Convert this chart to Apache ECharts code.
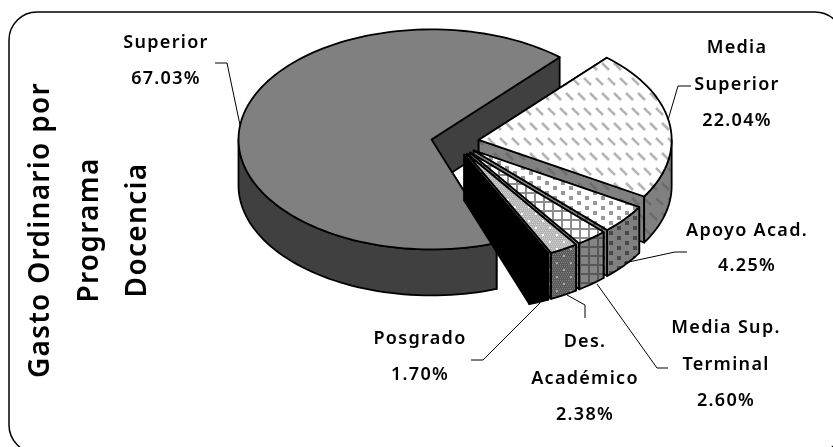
<!DOCTYPE html>
<html><head><meta charset="utf-8">
<style>html,body{margin:0;padding:0;background:#fff}#c{width:833px;height:447px}</style>
<script src="https://cdn.jsdelivr.net/npm/echarts@6/dist/echarts.min.js"></script>
</head><body><div id="c"></div>
<script>
const categories = ['Superior','Media Superior','Apoyo Acad.','Media Sup. Terminal','Des. Académico','Posgrado'];
const values = [67.03,22.04,4.25,2.60,2.38,1.70];
const labelLines = [['Superior'],['Media','Superior'],['Apoyo Acad.'],['Media Sup.','Terminal'],['Des.','Académico'],['Posgrado']];
const titleLines = ['Gasto Ordinario por','Programa','Docencia'];

// layout
const CX=455, CY=142, RX=193, RY=110, DEPTH=46, EXPLODE=0.124, START=160.3;
const labelPos=[[166,43,36],[737,48,36.5],[747,231,35],[726,328,36.5],[585,342,36.5],[420,339,36]];
const leaders=[
 [[215,63],[227,63],[240,125]],
 [[691,86],[678,86],[668,120]],
 [[687,252],[675,252],[624,263]],
 [[668,368],[657,368],[597,284]],
 [[585,318],[585,305],[567,295]],
 [[471,360],[483,360],[540,303]]
];

// letter spacing of the reference's text
const _ft=CanvasRenderingContext2D.prototype.fillText;
CanvasRenderingContext2D.prototype.fillText=function(){ this.letterSpacing='1.3px'; return _ft.apply(this,arguments); };

function tile(w,h,bg,draw){
  const c=document.createElement('canvas'); c.width=w;c.height=h;
  const g=c.getContext('2d'); g.fillStyle=bg; g.fillRect(0,0,w,h); draw(g); return {image:c,repeat:'repeat'};
}
function hatch(bg,fg){return tile(12,30,bg,g=>{
  g.strokeStyle=fg;g.lineWidth=2.6;
  for(const [x,y] of [[2,3],[8,18],[-4,18]]){g.beginPath();g.moveTo(x,y);g.lineTo(x+7,y+7);g.stroke();}
});}
function dots(bg,fg){return tile(16,10,bg,g=>{
  g.fillStyle=fg; g.fillRect(1,1,4,4); g.fillRect(9,6,4,4);
});}
function grid(bg,fg){return tile(9,9,bg,g=>{
  g.fillStyle=fg; g.fillRect(0,3,9,2); g.fillRect(3,0,2,9);
});}
function dither(a,b,c){return tile(14,14,a,g=>{
  g.fillStyle=b; for(let y=0;y<14;y+=2)for(let x=(y%4?1:0);x<14;x+=2)g.fillRect(x,y,1,1);
  g.fillStyle=c; g.fillRect(3,3,2,2); g.fillRect(10,10,2,2);
});}
const topFills=['#808080',hatch('#ffffff','#b4b4b4'),dots('#ffffff','#989898'),grid('#ffffff','#8c8c8c'),dither('#b4b4b4','#d4d4d4','#ffffff'),'#000000'];
const sideFills=['#404040',hatch('#808080','#6c6c6c'),dots('#808080','#484848'),grid('#848484','#585858'),dither('#5a5a5a','#808080','#a8a8a8'),'#000000'];

const total=values.reduce((a,b)=>a+b,0);
const rad=d=>d*Math.PI/180;
const LINE={stroke:'#000',lineWidth:1.8,lineJoin:'round'};

function renderItem(params,api){
  const i=params.dataIndex;
  let before=0; for(let k=0;k<i;k++) before+=values[k];
  const a0=START+before/total*360, a1=a0+api.value(1)/total*360, mid=(a0+a1)/2;
  const cx=CX+EXPLODE*RX*Math.sin(rad(mid)), cy=CY-EXPLODE*RY*Math.cos(rad(mid));
  const P=(a,dz=0)=>[cx+RX*Math.sin(rad(a)), cy-RY*Math.cos(rad(a))+dz];
  const arc=(s,e,dz=0)=>{const out=[],n=Math.max(2,Math.ceil((e-s)/2));for(let j=0;j<=n;j++)out.push(P(s+(e-s)*j/n,dz));return out;};
  const poly=(points,fill)=>({type:'polygon',shape:{points},style:Object.assign({fill},LINE)});
  const side=sideFills[i], top=topFills[i], kids=[];
  kids.push(poly([[cx,cy],P(a0),P(a0,DEPTH),[cx,cy+DEPTH]],side));
  kids.push(poly([[cx,cy],P(a1),P(a1,DEPTH),[cx,cy+DEPTH]],side));
  // the front half of the rim
  for(const off of [0,360]){
    const s=Math.max(a0,90+off), e=Math.min(a1,270+off);
    if(e>s) kids.push(poly(arc(s,e).concat(arc(s,e,DEPTH).reverse()),side));
  }
  kids.push(poly([[cx,cy]].concat(arc(a0,a1)),top));
  kids.push({type:'polyline',shape:{points:leaders[i]},style:{stroke:'#000',lineWidth:1,fill:null}});
  const [lx,ly,lh]=labelPos[i];
  const lines=labelLines[i].concat(api.value(1).toFixed(2)+'%');
  lines.forEach((t,j)=>kids.push({type:'text',x:lx,y:ly+j*lh,style:{text:t,fill:'#000',align:'center',verticalAlign:'middle',
    font:'600 18px "Noto Sans"'}}));
  return {type:'group',children:kids};
}

const chart=echarts.init(document.getElementById('c'),null,{renderer:'canvas'});
chart.setOption({
  animation:false,
  backgroundColor:'#fff',
  graphic:[
    {type:'rect',z:-1,shape:{x:9,y:12,width:834,height:441,r:28},style:{fill:'#fff',stroke:'#000',lineWidth:1.5}},
    ...titleLines.map((t,i)=>({type:'text',z:5,x:[41,90,138][i],y:230,rotation:Math.PI/2,
      style:{text:t,fill:'#000',align:'center',verticalAlign:'middle',font:'600 28px "Noto Sans"'}}))
  ],
  series:[{type:'custom',coordinateSystem:'none',renderItem,silent:true,clip:false,
    data:categories.map((c,i)=>({name:c,value:[i,values[i]]}))}]
});
</script></body></html>
